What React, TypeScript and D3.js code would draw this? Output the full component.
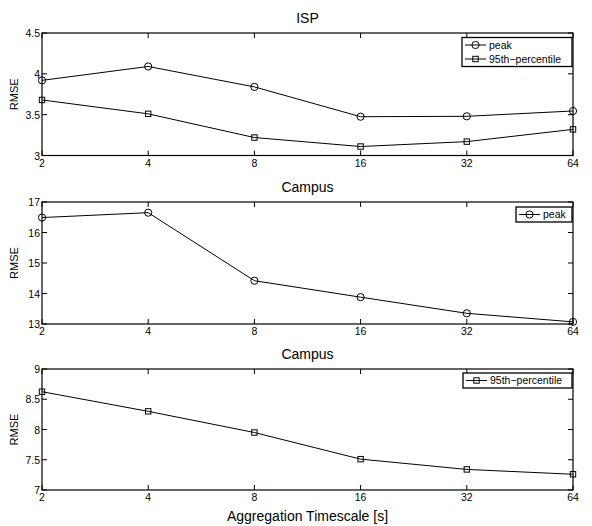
import React, { useEffect, useRef } from "react";
import * as d3 from "d3";

const timescales = [2, 4, 8, 16, 32, 64];

const ispPeak = [3.92, 4.09, 3.84, 3.475, 3.48, 3.545];
const isp95 = [3.68, 3.51, 3.22, 3.11, 3.17, 3.32];
const campusPeak = [16.49, 16.65, 14.42, 13.88, 13.35, 13.07];
const campus95 = [8.625, 8.3, 7.95, 7.51, 7.34, 7.26];

const ispTicks = [3, 3.5, 4, 4.5];
const campusPeakTicks = [13, 14, 15, 16, 17];
const campus95Ticks = [7, 7.5, 8, 8.5, 9];

const WIDTH = 592;
const HEIGHT = 526;
const LEFT = 42;
const RIGHT = 573;
const FONT = "'Liberation Sans', Arial, sans-serif";
const TICK_LEN = 5;

type Series = { name: string; values: number[]; marker: "circle" | "square" };

const drawMarker = (g: any, marker: string, x: number, y: number) => {
  if (marker === "circle") {
    g.append("circle")
      .attr("cx", x).attr("cy", y).attr("r", 3.6)
      .attr("fill", "none").attr("stroke", "black").attr("stroke-width", 1);
  } else {
    g.append("rect")
      .attr("x", x - 2.7).attr("y", y - 2.7)
      .attr("width", 5.4).attr("height", 5.4)
      .attr("fill", "none").attr("stroke", "black").attr("stroke-width", 1);
  }
};

const drawPanel = (
  svg: any,
  top: number,
  bottom: number,
  domain: [number, number],
  ticks: number[],
  title: string,
  series: Series[],
  legendX: number,
  legendY: number
) => {
  const x = d3.scaleLog().base(2).domain([2, 64]).range([LEFT, RIGHT]);
  const y = d3.scaleLinear().domain(domain).range([bottom, top]);
  const g = svg.append("g");

  // title
  g.append("text")
    .attr("x", (LEFT + RIGHT) / 2)
    .attr("y", top - 10)
    .attr("text-anchor", "middle")
    .attr("font-family", FONT)
    .attr("font-size", 14)
    .text(title);

  // ticks, inside on all four sides
  timescales.forEach((t) => {
    const xp = x(t);
    g.append("line").attr("x1", xp).attr("x2", xp).attr("y1", bottom).attr("y2", bottom - TICK_LEN).attr("stroke", "black");
    g.append("line").attr("x1", xp).attr("x2", xp).attr("y1", top).attr("y2", top + TICK_LEN).attr("stroke", "black");
    g.append("text")
      .attr("x", xp)
      .attr("y", bottom + 11)
      .attr("text-anchor", "middle")
      .attr("font-family", FONT)
      .attr("font-size", 10.5)
      .text(t);
  });
  ticks.forEach((v) => {
    const yp = y(v);
    g.append("line").attr("x1", LEFT).attr("x2", LEFT + TICK_LEN).attr("y1", yp).attr("y2", yp).attr("stroke", "black");
    g.append("line").attr("x1", RIGHT).attr("x2", RIGHT - TICK_LEN).attr("y1", yp).attr("y2", yp).attr("stroke", "black");
    g.append("text")
      .attr("x", LEFT - 2)
      .attr("y", yp + 4)
      .attr("text-anchor", "end")
      .attr("font-family", FONT)
      .attr("font-size", 10.5)
      .text(String(v));
  });

  // y label
  g.append("text")
    .attr("transform", `translate(18,${(top + bottom) / 2}) rotate(-90)`)
    .attr("text-anchor", "middle")
    .attr("font-family", FONT)
    .attr("font-size", 11)
    .text("RMSE");

  // lines and markers
  const line = d3.line<number>()
    .x((d, i) => x(timescales[i]))
    .y((d) => y(d));
  series.forEach((s) => {
    g.append("path")
      .attr("d", line(s.values))
      .attr("fill", "none")
      .attr("stroke", "black")
      .attr("stroke-width", 1);
    s.values.forEach((v, i) => drawMarker(g, s.marker, x(timescales[i]), y(v)));
  });

  // axes box
  g.append("rect")
    .attr("x", LEFT).attr("y", top)
    .attr("width", RIGHT - LEFT).attr("height", bottom - top)
    .attr("fill", "none").attr("stroke", "black").attr("stroke-width", 1.2);

  // legend
  const lg = g.append("g");
  const rowH = 14;
  const h = series.length * rowH + 1;
  lg.append("rect")
    .attr("x", legendX).attr("y", legendY)
    .attr("width", RIGHT - 1 - legendX).attr("height", h)
    .attr("fill", "white").attr("stroke", "black").attr("stroke-width", 1.3);
  series.forEach((s, i) => {
    const cy = legendY + 7.5 + i * rowH;
    lg.append("line")
      .attr("x1", legendX + 3).attr("x2", legendX + 24)
      .attr("y1", cy).attr("y2", cy)
      .attr("stroke", "black");
    drawMarker(lg, s.marker, legendX + 13.5, cy);
    lg.append("text")
      .attr("x", legendX + 27)
      .attr("y", cy + 3.8)
      .attr("font-family", FONT)
      .attr("font-size", 10.5)
      .text(s.name);
  });
};

const App = () => {
  const svgRef = useRef<SVGSVGElement>(null);

  useEffect(() => {
    const svg = d3.select(svgRef.current);
    svg.selectAll("*").remove();

    svg.append("rect").attr("width", WIDTH).attr("height", HEIGHT).attr("fill", "white");

    drawPanel(svg, 33, 155.5, [3, 4.5], ispTicks, "ISP",
      [
        { name: "peak", values: ispPeak, marker: "circle" },
        { name: "95th\u2212percentile", values: isp95, marker: "square" },
      ],
      462, 37.5);

    drawPanel(svg, 202, 324, [13, 17], campusPeakTicks, "Campus",
      [{ name: "peak", values: campusPeak, marker: "circle" }],
      516, 207);

    drawPanel(svg, 369, 490, [7, 9], campus95Ticks, "Campus",
      [{ name: "95th\u2212percentile", values: campus95, marker: "square" }],
      463, 373);

    svg.append("text")
      .attr("x", (LEFT + RIGHT) / 2)
      .attr("y", 521)
      .attr("text-anchor", "middle")
      .attr("font-family", FONT)
      .attr("font-size", 14)
      .text("Aggregation Timescale [s]");
  }, []);

  return (
    <svg
      ref={svgRef}
      width={WIDTH}
      height={HEIGHT}
      style={{ position: "absolute", left: 0, top: 0 }}
    />
  );
};

export default App;
